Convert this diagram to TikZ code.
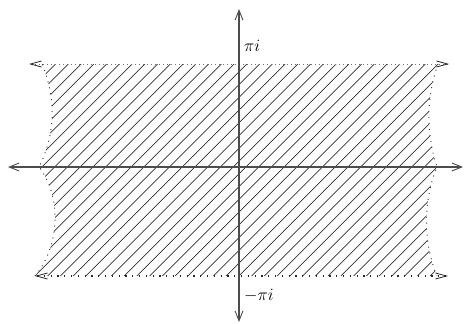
\documentclass[tikz,border=0pt]{standalone}
\usetikzlibrary{arrows.meta}
\begin{document}
\begin{tikzpicture}[x=1pt,y=-1pt,
  axis/.style={line width=1.1pt,draw=black!70,{Straight Barb[length=10pt,width=8pt,line width=0.9pt]}-{Straight Barb[length=10pt,width=8pt,line width=0.9pt]}},
  topedge/.style={line width=0.8pt,draw=black!55,dash pattern=on 0.8pt off 3.2pt,{Straight Barb[length=11pt,width=6pt,line width=0.8pt,color=black!85]}-{Straight Barb[length=11pt,width=6pt,line width=0.8pt,color=black!85]}},
  botedge/.style={line width=1.5pt,draw=black!85,dash pattern=on 1.2pt off 5.6pt,{Straight Barb[length=11pt,width=6pt,line width=0.8pt]}-{Straight Barb[length=11pt,width=6pt,line width=0.8pt]}},
  sideedge/.style={line width=1pt,draw=black!75,dash pattern=on 1pt off 5pt},
  hatch/.style={line width=0.75pt,draw=black!80},
  lbl/.style={font=\fontsize{16}{19}\selectfont,anchor=west,inner sep=0pt}]
\useasboundingbox (0,0) rectangle (467,324);
% corner coordinates
\coordinate (tl) at (42,64);
\coordinate (ml) at (39,167);
\coordinate (bl) at (35,276);
\coordinate (tr) at (438,64);
\coordinate (mr) at (437,167);
\coordinate (br) at (437,276);
% hatching clipped to strip
\begin{scope}
  \clip (tl) -- (tr) .. controls (426,98) and (426,133) .. (mr)
        .. controls (423,200) and (423,243) .. (br) -- (bl)
        .. controls (61,245) and (61,195) .. (ml)
        .. controls (56,133) and (56,98) .. (tl) -- cycle;
  \foreach \k in {30.2,42.95,...,680}{
    \draw[hatch] (\k,64) -- ++(-212,212);
  }
\end{scope}
% side edges
\draw[sideedge] (tr) .. controls (426,98) and (426,133) .. (mr)
        .. controls (423,200) and (423,243) .. (br);
\draw[sideedge] (bl) .. controls (61,245) and (61,195) .. (ml)
        .. controls (56,133) and (56,98) .. (tl);
% strip boundary lines
\coordinate (tlA) at (29,64);
\coordinate (trA) at (449,64);
\coordinate (blA) at (35,276);
\coordinate (brA) at (448,276);
\draw[topedge] (tlA) -- (trA);
\draw[botedge] (blA) -- (brA);
% axes
\coordinate (xl) at (8,167);
\coordinate (xr) at (463,167);
\coordinate (yt) at (239,9);
\coordinate (yb) at (239,322);
\draw[axis] (xl) -- (xr);
\draw[axis] (yb) -- (yt);
% labels
\node[lbl] (pi) at (244,46) {$\pi i$};
\node[lbl] (mpi) at (244,296) {$-\pi i$};
\end{tikzpicture}
\end{document}
